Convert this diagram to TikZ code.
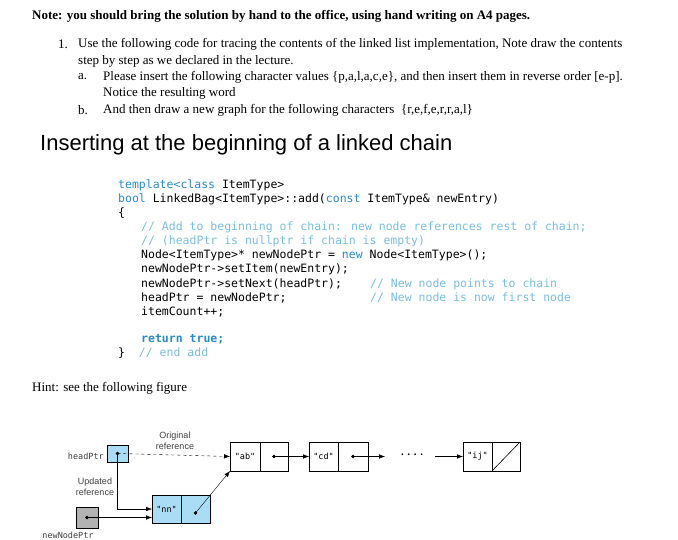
\documentclass[tikz,border=0pt]{standalone}
\usepackage{fontspec}
\setmainfont{Liberation Serif}
\newfontfamily\hsans{Liberation Sans}
\newfontfamily\codef{DejaVu Sans Mono}
\usetikzlibrary{arrows.meta}
\definecolor{kw}{RGB}{40,140,200}
\definecolor{cm}{RGB}{120,190,225}
\definecolor{lb}{RGB}{170,220,245}
\begin{document}
\begin{tikzpicture}[x=1pt,y=-1pt,
  txt/.style={anchor=west,inner sep=0pt,font=\fontsize{13}{15}\selectfont},
  code/.style={anchor=west,inner sep=0pt,font=\codef\fontsize{11.5}{13}\selectfont},
  fl/.style={inner sep=0pt,font=\hsans\fontsize{9}{10.5}\selectfont,text=black!75},
  cf/.style={font=\codef\fontsize{8.5}{10}\selectfont},
  cell/.style={draw,line width=0.8pt},
  arr/.style={-{Latex[length=6pt,width=4.5pt]},line width=0.4pt},
  dot/.style={circle,fill=black,draw=black,inner sep=0pt,minimum size=3pt}]
\useasboundingbox (0,0) rectangle (678,540);
\node[txt,font=\bfseries\fontsize{13}{15}\selectfont] (n0) at (32,16) {Note: you should bring the solution by hand to the office, using hand writing on A4 pages.};
\node[txt] (n1) at (58,44) {1.};
\node[txt] (n1t) at (78,44) {Use the following code for tracing the contents of the linked list implementation, Note draw the contents};
\node[txt] (n2) at (78,61) {step by step as we declared in the lecture.};
\node[txt] (na) at (78,77) {a.};
\node[txt] (nat) at (103,77) {Please insert the following character values \{p,a,l,a,c,e\}, and then insert them in reverse order [e-p].};
\node[txt] (na2) at (103,93) {Notice the resulting word};
\node[txt] (nb) at (78,110) {b.};
\node[txt] (nbt) at (103,110) {And then draw a new graph for the following characters \ \{r,e,f,e,r,r,a,l\}};
\node[txt,font=\hsans\fontsize{22}{25}\selectfont] (title) at (40,145) {Inserting at the beginning of a linked chain};
\node[code] (c1) at (118,185) {\textcolor{kw}{template<class} ItemType>};
\node[code] (c2) at (118,199) {\textcolor{kw}{bool} LinkedBag<ItemType>::add(\textcolor{kw}{const} ItemType\& newEntry)};
\node[code] (c3) at (118,213) {\{};
\node[code,text=cm] (c4) at (141,227) {// Add to beginning of chain: new node references rest of chain;};
\node[code,text=cm] (c5) at (141,241) {// (headPtr is nullptr if chain is empty)};
\node[code] (c6) at (141,255) {Node<ItemType>* newNodePtr = \textcolor{kw}{new} Node<ItemType>();};
\node[code] (c7) at (141,269) {newNodePtr->setItem(newEntry);};
\node[code] (c8) at (141,284) {newNodePtr->setNext(headPtr);};
\node[code,text=cm] (c8c) at (370,284) {// New node points to chain};
\node[code] (c9) at (141,298) {headPtr = newNodePtr;};
\node[code,text=cm] (c9c) at (370,298) {// New node is now first node};
\node[code] (c10) at (141,312) {itemCount++;};
\node[code,text=kw,font=\codef\bfseries\fontsize{11.5}{13}\selectfont] (c11) at (141,339) {return true;};
\node[code] (c12) at (118,353) {\}\ \ \textcolor{cm}{// end add}};
\node[txt] (hint) at (32,388) {Hint: see the following figure};
% figure
\draw[cell,fill=lb] (107,445) rectangle (128,462);
\draw[cell,fill=black!30] (76,507) rectangle (98,528);
\draw[cell,fill=lb] (152,495) rectangle (210,523);
\draw[line width=0.8pt] (181,495) -- (181,523);
\node[cf] (nn) at (166.5,509) {"nn"};
\draw[cell] (230,442) rectangle (288,471); \draw[line width=0.8pt] (260,442)--(260,471);
\node[cf] (ab) at (245,456.5) {"ab"};
\draw[cell] (309,442) rectangle (368,471); \draw[line width=0.8pt] (338,442)--(338,471);
\node[cf] (cd) at (323.5,456.5) {"cd"};
\draw[cell] (463,442) rectangle (520,471); \draw[line width=0.8pt] (492,442)--(492,471);
\draw[line width=0.6pt] (492,471)--(520,442);
\node[cf] (ij) at (477.5,456.5) {"ij"};
\coordinate (hp) at (117.5,453.5);
\coordinate (np) at (87,517.5);
\coordinate (nnd) at (195.5,513);
\coordinate (abd) at (274,456.5);
\coordinate (cdd) at (353,456.5);
\coordinate (abw) at (230,456.5);
\coordinate (cdw) at (309,456.5);
\coordinate (ijw) at (463,456.5);
\coordinate (absw) at (230,471);
\coordinate (c1e) at (385,456.5);
\coordinate (c2s) at (435,456.5);
\node[font=\bfseries\fontsize{11}{11}\selectfont] (dots) at (412,455) {.\,\,.\,\,.\,\,.};
\draw[arr,dashed] (hp) -- (abw);
\draw[arr] (abd) -- (cdw);
\draw[arr] (cdd) -- (c1e);
\draw[arr] (c2s) -- (ijw);
\draw[arr] (nnd) -- (absw);
\draw[arr] (hp) |- (152,509);
\draw[arr] (np) -- (152,517.5);
\foreach \p in {hp,np,nnd,abd,cdd} \node[dot] at (\p) {};
\node[fl,anchor=east,cf] (hl) at (104,456) {headPtr};
\node[fl,align=center] (orig) at (175,441) {Original\\reference};
\node[fl,align=center] (upd) at (95,487) {Updated\\reference};
\node[fl,cf] (nl) at (68,535) {newNodePtr};
\end{tikzpicture}
\end{document}
